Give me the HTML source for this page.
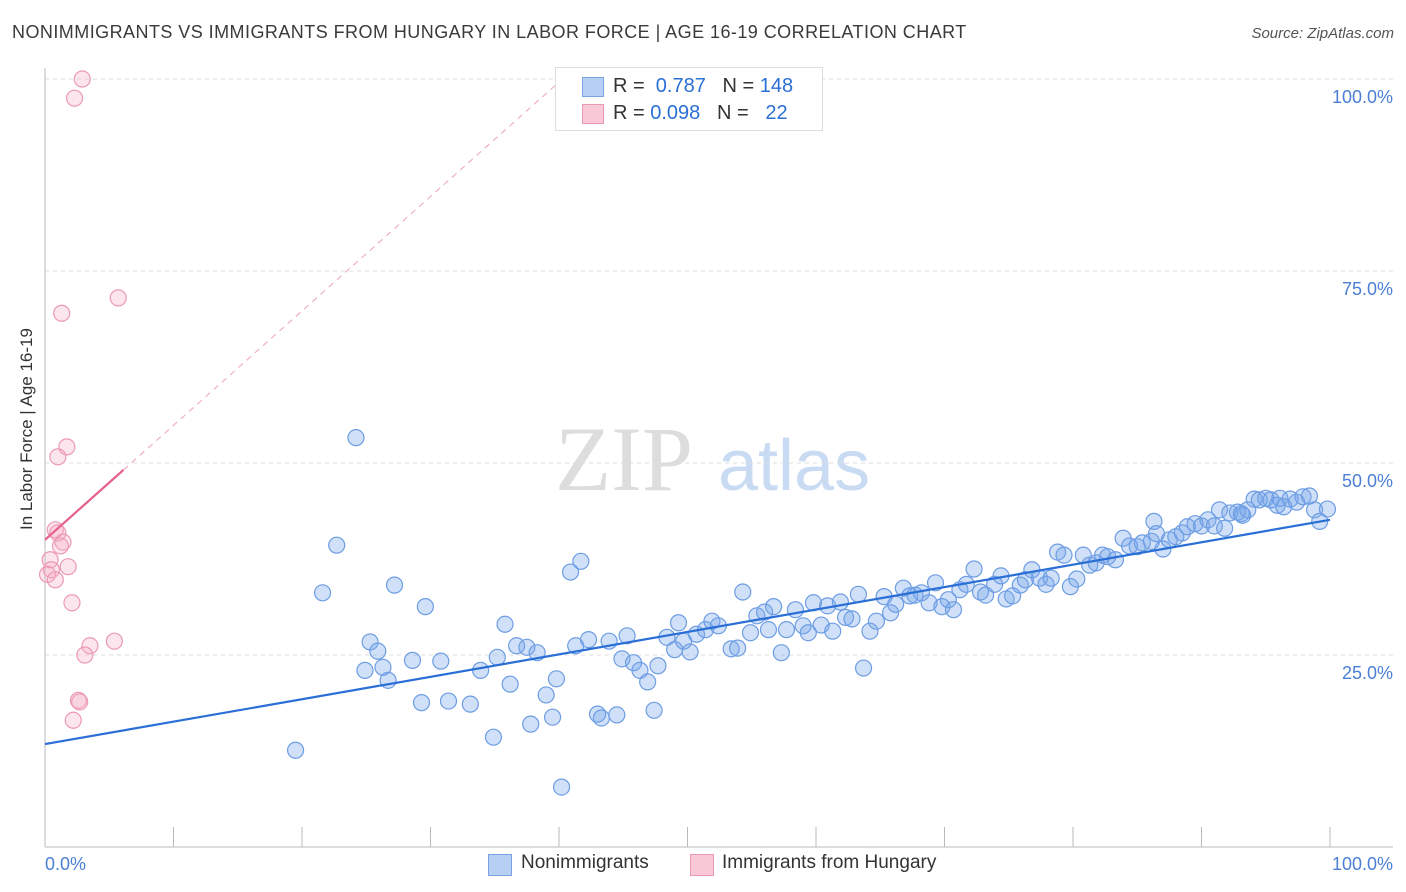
<!DOCTYPE html>
<html><head><meta charset="utf-8">
<style>
body{margin:0;background:#fff;font-family:"Liberation Sans",sans-serif;}
#wrap{position:relative;width:1406px;height:892px;overflow:hidden;}
.t{position:absolute;white-space:nowrap;}
</style></head>
<body>
<div id="wrap">
<div class="t" style="left:12px;top:22px;font-size:18px;letter-spacing:0.45px;color:#3a3a3a;">NONIMMIGRANTS VS IMMIGRANTS FROM HUNGARY IN LABOR FORCE | AGE 16-19 CORRELATION CHART</div>
<div class="t" style="right:12px;top:25px;font-size:15px;color:#555;font-style:italic;">Source: ZipAtlas.com</div>
<div class="t" style="left:-48px;top:445px;font-size:17px;color:#333;transform:rotate(-90deg);width:150px;text-align:center;">In Labor Force | Age 16-19</div>
<svg id="svg" width="1406" height="892" style="position:absolute;left:0;top:0"></svg>
<div style="position:absolute;left:555px;top:67px;width:266px;height:62px;border:1px solid #ddd;background:#fff;font-size:20px;">
 <div style="position:absolute;left:26px;top:9px;width:20px;height:18px;background:#b7cff3;border:1px solid #7aa3e3;"></div>
 <div class="t" style="left:57px;top:7px;color:#333;">R = <span style="color:#2a6fd6">&nbsp;0.787</span>&nbsp;&nbsp;&nbsp;N = <span style="color:#2a6fd6">148</span></div>
 <div style="position:absolute;left:26px;top:36px;width:20px;height:18px;background:#f9c8d6;border:1px solid #e99ab3;"></div>
 <div class="t" style="left:57px;top:34px;color:#333;">R = <span style="color:#2a6fd6">0.098</span>&nbsp;&nbsp;&nbsp;N = <span style="color:#2a6fd6">&nbsp;&nbsp;22</span></div>
</div>
<div style="position:absolute;left:488px;top:852px;font-size:19px;color:#333;">
 <div style="position:absolute;left:0;top:2px;width:22px;height:20px;background:#b7cff3;border:1px solid #7aa3e3;"></div>
 <div class="t" style="left:33px;top:0;">Nonimmigrants</div>
 <div style="position:absolute;left:202px;top:2px;width:22px;height:20px;background:#f9c8d6;border:1px solid #e99ab3;"></div>
 <div class="t" style="left:234px;top:0;">Immigrants from Hungary</div>
</div>
</div>
<script>
const blueX=[19.5,24.2,22.7,21.6,25.3,24.9,25.9,26.3,26.7,27.2,28.6,29.3,29.6,30.8,31.4,33.1,33.9,34.9,35.2,35.8,36.2,36.7,37.5,37.8,38.3,39.0,39.5,39.8,40.2,40.9,41.3,41.7,42.3,43.0,43.3,43.9,44.5,44.9,45.3,45.8,46.3,46.9,47.4,47.7,48.4,49.0,49.3,49.7,50.2,50.7,51.4,51.9,52.4,53.4,53.9,54.3,54.9,55.4,56.0,56.3,56.7,57.3,57.7,58.4,59.0,59.4,59.8,60.4,60.9,61.3,61.9,62.3,62.8,63.3,63.7,64.2,64.7,65.3,65.8,66.2,66.8,67.3,67.7,68.2,68.8,69.3,69.8,70.3,70.7,71.2,71.7,72.3,72.8,73.2,73.9,74.4,74.8,75.3,75.9,76.3,76.8,77.4,77.9,78.3,78.8,79.3,79.8,80.3,80.8,81.3,81.8,82.3,82.7,83.3,83.9,84.4,85.0,85.4,86.1,86.5,87.0,87.5,88.0,88.5,88.9,86.3,89.5,90.0,90.5,91.0,91.4,91.8,92.2,92.8,93.2,93.6,94.1,94.5,95.0,95.4,95.9,96.4,96.9,97.4,97.9,98.4,98.8,99.2,99.8,93.1,96.1];
const blueY=[12.6,53.3,39.3,33.1,26.7,23.0,25.5,23.4,21.7,34.1,24.3,18.8,31.3,24.2,19.0,18.6,23.0,14.3,24.7,29.0,21.2,26.2,26.0,16.0,25.3,19.8,16.9,21.9,7.8,35.8,26.2,37.2,27.0,17.3,16.8,26.8,17.2,24.5,27.5,24.0,23.0,21.5,17.8,23.6,27.3,25.7,29.2,26.8,25.4,27.7,28.3,29.4,28.8,25.8,25.9,33.2,27.9,30.1,30.6,28.3,31.3,25.3,28.3,30.9,28.8,27.9,31.8,28.9,31.4,28.1,31.9,29.9,29.7,32.9,23.3,28.1,29.4,32.6,30.5,31.6,33.7,32.7,32.8,33.1,31.8,34.4,31.3,32.2,30.9,33.5,34.2,36.2,33.2,32.8,34.2,35.3,32.3,32.7,34.1,34.8,36.1,35.0,34.2,35.0,38.4,38.0,33.9,34.9,38.0,36.7,37.0,38.0,37.8,37.4,40.2,39.2,39.1,39.6,39.8,40.8,38.8,40.0,40.4,40.9,41.7,42.4,42.1,41.8,42.6,41.8,43.9,41.5,43.5,43.6,43.2,43.9,45.3,45.2,45.4,45.2,44.5,44.3,45.3,44.9,45.6,45.7,43.9,42.4,44.0,43.4,45.4];
const pinkX=[2.9,2.3,5.7,1.3,1.7,1.0,0.8,1.0,1.4,1.2,0.4,1.8,0.5,0.2,0.8,2.1,3.5,5.4,3.1,2.6,2.7,2.2];
const pinkY=[100,97.5,71.5,69.5,52.1,50.8,41.3,40.9,39.7,39.2,37.4,36.5,36.1,35.5,34.8,31.8,26.2,26.8,25.0,19.1,18.9,16.5];
const blueTrend=[13.4,42.6];   // y at x=0, x=100
const pinkTrend=[40.0,1.49];   // intercept, slope
const yTicks=[25,50,75,100];
const yTickLabels=["25.0%","50.0%","75.0%","100.0%"];
const xTicks=[0,10,20,30,40,50,60,70,80,90,100];

const X0=45,X1=1330,Y0=847,Y100=79;
const sx=v=>X0+(X1-X0)*v/100;
const sy=v=>Y0-(Y0-Y100)*v/100;
const svg=document.getElementById('svg');
const NS='http://www.w3.org/2000/svg';
function mk(tag,attrs){const e=document.createElementNS(NS,tag);for(const k in attrs)e.setAttribute(k,attrs[k]);svg.appendChild(e);return e;}

let wm=mk('text',{x:555,y:490,'font-size':92,'font-family':'Liberation Serif, serif',fill:'#ddd'});
wm.textContent='ZIP';


let wm2=mk('text',{x:718,y:490,'font-size':72,'font-family':'Liberation Sans, sans-serif',fill:'#c9dbf3'});
wm2.textContent='atlas';



yTicks.forEach((v,i)=>{
  let g=mk('line',{x1:X0,x2:1393,y1:sy(v),y2:sy(v),stroke:'#ddd','stroke-dasharray':'4,4'});
  
  
  let t=mk('text',{x:1393,y:sy(v)+24,'text-anchor':'end','font-size':18,fill:'#4a7fd4','font-family':'Liberation Sans, sans-serif'});
  t.textContent=yTickLabels[i];
  
  
});
let ya=mk('line',{x1:X0,x2:X0,y1:68,y2:847,stroke:'#bbb'});


let xa=mk('line',{x1:X0,x2:1393,y1:847,y2:847,stroke:'#bbb'});


xTicks.forEach(v=>{
  let l=mk('line',{x1:sx(v),x2:sx(v),y1:827,y2:847,stroke:'#bbb'});
  
  
});
[[0,'0.0%','start',45],[100,'100.0%','end',1393]].forEach(a=>{
  let t=mk('text',{x:a[3],y:870,'text-anchor':a[2],'font-size':18,fill:'#4a7fd4','font-family':'Liberation Sans, sans-serif'});
  t.textContent=a[1];
  
  
});

blueX.forEach((x,i)=>{
  let c=mk('circle',{cx:sx(x),cy:sy(blueY[i]),r:8,fill:'rgba(120,165,235,0.35)',stroke:'#6d9de3','stroke-width':1.2});
  
  
});
pinkX.forEach((x,i)=>{
  let c=mk('circle',{cx:sx(x),cy:sy(pinkY[i]),r:8,fill:'rgba(245,170,195,0.3)',stroke:'#eb9ab4','stroke-width':1.2});
  
  
});

let bl=mk('line',{x1:sx(0),y1:sy(blueTrend[0]),x2:sx(100),y2:sy(blueTrend[1]),stroke:'#2a6fd6','stroke-width':2.2});


const pEnd=(100-pinkTrend[0])/pinkTrend[1];
let pd=mk('line',{x1:sx(6.1),y1:sy(pinkTrend[0]+pinkTrend[1]*6.1),x2:sx(pEnd),y2:sy(100),stroke:'#eeb0c3','stroke-width':1.2,'stroke-dasharray':'6,5'});


let pl=mk('line',{x1:sx(0),y1:sy(pinkTrend[0]),x2:sx(6.1),y2:sy(pinkTrend[0]+pinkTrend[1]*6.1),stroke:'#e5608a','stroke-width':2.2});


</script>
</body></html>
